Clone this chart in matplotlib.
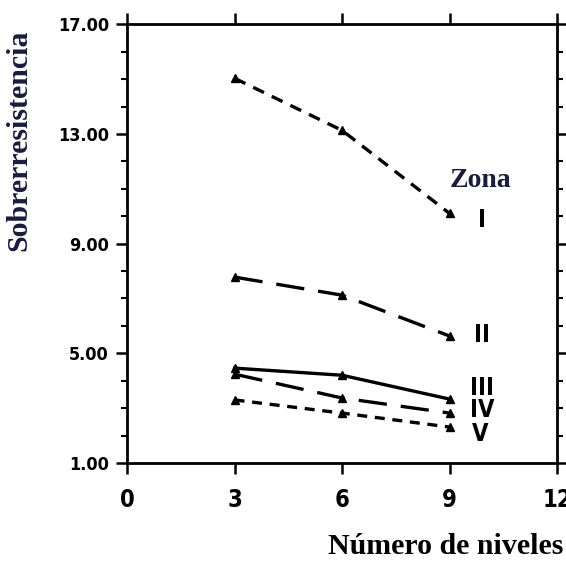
import matplotlib
matplotlib.use("Agg")
import matplotlib.pyplot as plt
from matplotlib.ticker import MultipleLocator, FixedLocator, FormatStrFormatter
from matplotlib.font_manager import FontProperties

niveles = [3, 6, 9]
zona_I = [15.03, 13.13, 10.10]
zona_II = [7.78, 7.12, 5.63]
zona_III = [4.46, 4.20, 3.33]
zona_IV = [4.24, 3.37, 2.82]
zona_V = [3.30, 2.82, 2.31]
zonas = ["I", "II", "III", "IV", "V"]
series = [zona_I, zona_II, zona_III, zona_IV, zona_V]
x_ticks = [0, 3, 6, 9, 12]
y_ticks = [1.0, 5.0, 9.0, 13.0, 17.0]

serif = ['Liberation Serif', 'DejaVu Serif']
navy = '#1b1b3c'

def narrow(size):
    return FontProperties(family=['DejaVu Sans'], stretch='condensed',
                          weight='bold', size=size)

fig = plt.figure(figsize=(5.66, 5.61), dpi=100)
ax = fig.add_axes([0.2244, 0.1747, 0.760, 0.782])

styles = [
    dict(linestyle=(0, (3.6, 2.6))),
    dict(linestyle=(0, (8.5, 4.2))),
    dict(linestyle='-'),
    dict(linestyle=(0, (8.5, 4.2))),
    dict(linestyle=(0, (3.0, 2.3))),
]
for vals, st in zip(series, styles):
    ax.plot(niveles, vals, color='black', linewidth=2.4, marker='^',
            markersize=6, **st)

ax.set_xlim(0, 12)
ax.set_ylim(1, 17)
ax.xaxis.set_major_locator(FixedLocator(x_ticks))
ax.yaxis.set_major_locator(FixedLocator(y_ticks))
ax.yaxis.set_minor_locator(MultipleLocator(1))
ax.yaxis.set_major_formatter(FormatStrFormatter('%.2f'))
ax.tick_params(axis='both', which='major', direction='out', length=8, width=1.8,
               top=True, right=True)
ax.tick_params(axis='y', which='minor', direction='out', length=4, width=1.5,
               right=True, left=True)
ax.tick_params(axis='x', pad=10)
ax.tick_params(axis='y', pad=5)
for lab in ax.get_yticklabels():
    lab.set_fontproperties(narrow(13))
for lab in ax.get_xticklabels():
    lab.set_fontproperties(narrow(17))
for sp in ax.spines.values():
    sp.set_linewidth(2)

fig.text(0.034, 0.75, 'Sobrerresistencia', rotation=90, ha='center', va='center',
         family=serif, fontsize=21.5, fontweight='bold', color=navy)
fig.text(0.995, 0.002, 'Número de niveles', ha='right', va='bottom',
         family=serif, fontsize=21.5, fontweight='bold', color='black')

ax.text(9.86, 11.3, 'Zona', family=serif, fontsize=20, fontweight='bold', color=navy,
        ha='center', va='center')
label_pos = [(9.9, 9.85), (9.9, 5.66), (9.9, 3.73), (9.9, 2.93), (9.85, 2.05)]
for z, (lx, ly) in zip(zonas, label_pos):
    ax.text(lx, ly, z, fontproperties=narrow(17), ha='center', va='center')

fig.savefig('out.png', dpi=100)
